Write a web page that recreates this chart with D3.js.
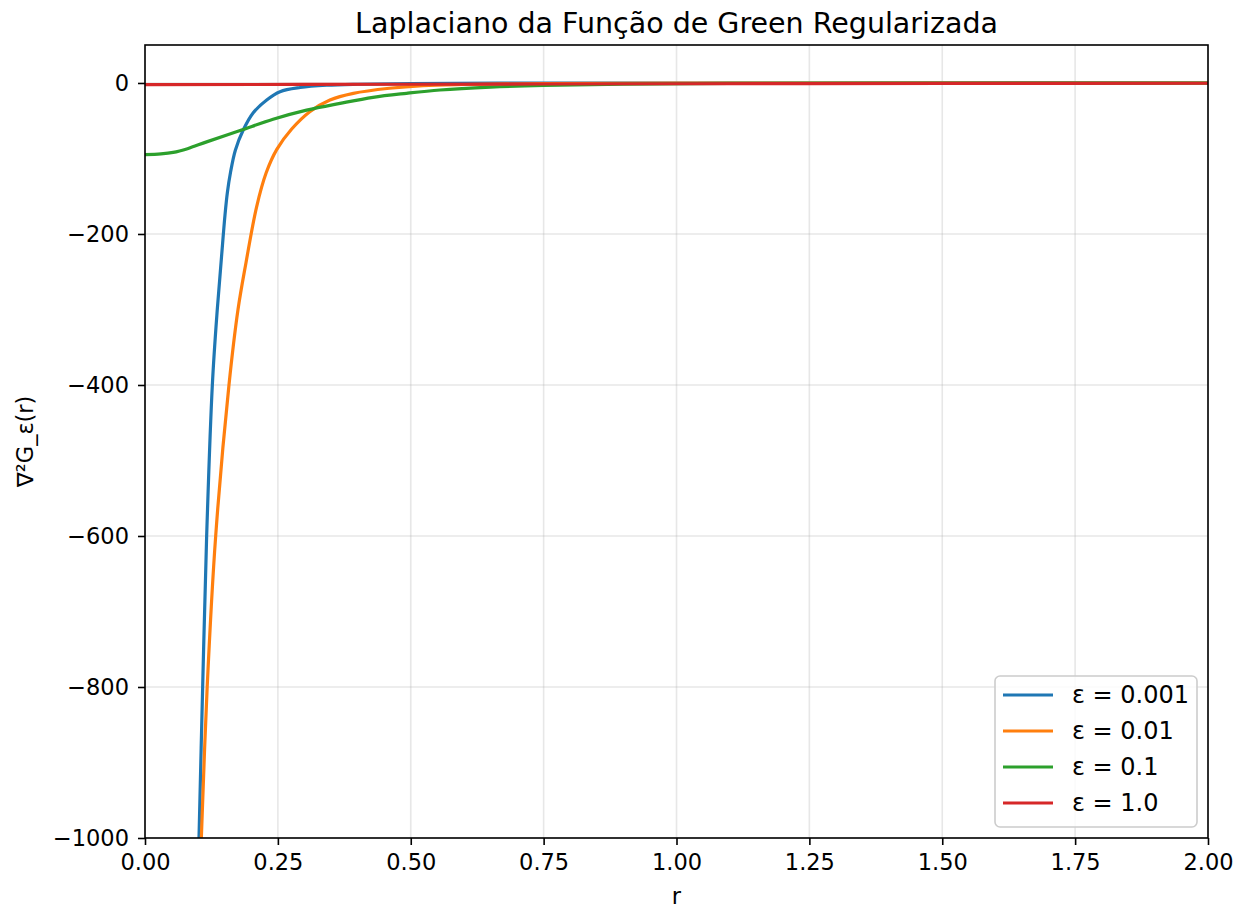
<!DOCTYPE html>
<html>
<head>
<meta charset="utf-8">
<script src="https://cdn.jsdelivr.net/npm/d3@7"></script>
<style>
  body { margin: 0; background: white; }
  text { font-family: "DejaVu Sans", sans-serif; fill: black; }
</style>
</head>
<body>
<div id="chart"></div>
<script>
// values
const seriesLabels = ["ε = 0.001", "ε = 0.01", "ε = 0.1", "ε = 1.0"];
const seriesColors = ["#1f77b4", "#ff7f0e", "#2ca02c", "#d62728"];

const rBlue = [0.1016, 0.1085, 0.116, 0.1267, 0.136, 0.144, 0.1505, 0.155, 0.161, 0.17, 0.185, 0.203, 0.229, 0.254, 0.292, 0.342, 0.4, 0.5, 0.75, 1.0, 1.5, 2.0];
const vBlue = [-1000, -800, -600, -400, -300, -230, -175, -145, -118, -89, -62, -40, -22.5, -11.5, -6, -3, -1.7, -0.8, -0.2, -0.1, 0, 0];

const rOrange = [0.106, 0.117, 0.133, 0.158, 0.175, 0.19, 0.21, 0.228, 0.248, 0.276, 0.31, 0.348, 0.392, 0.46, 0.523, 0.6, 0.75, 1.0, 1.5, 2.0];
const vOrange = [-1000, -800, -600, -400, -300, -238, -164, -119, -88, -61, -38, -22.5, -13.7, -7, -3.5, -2, -0.8, -0.3, -0.1, 0];

const rGreen = [0, 0.03, 0.053, 0.08, 0.116, 0.179, 0.241, 0.304, 0.367, 0.429, 0.492, 0.555, 0.65, 0.75, 0.9, 1.1, 1.4, 2.0];
const vGreen = [-95, -94, -92, -87, -78, -63, -48, -36, -27, -19, -13.7, -9.3, -5.5, -3.2, -1.5, -0.6, -0.2, -0.05];

const rRed = [0, 0.5, 1.0, 1.5, 2.0];
const vRed = [-2.2, -1.7, -1.0, -0.6, -0.35];

const xTicks = [0, 0.25, 0.5, 0.75, 1.0, 1.25, 1.5, 1.75, 2.0];
const yTicks = [0, -200, -400, -600, -800, -1000];

const series = [
  { r: rBlue, v: vBlue },
  { r: rOrange, v: vOrange },
  { r: rGreen, v: vGreen },
  { r: rRed, v: vRed }
].map((s, i) => ({
  label: seriesLabels[i],
  color: seriesColors[i],
  points: s.r.map((r, j) => ({ r: r, v: s.v[j] }))
}));

const margin = { top: 45, right: 38, bottom: 71, left: 145 },
      width = 1246 - margin.left - margin.right,
      height = 909 - margin.top - margin.bottom;

const root = d3.select("#chart")
    .append("svg")
    .attr("width", 1246)
    .attr("height", 909);

const svg = root.append("g")
    .attr("transform", `translate(${margin.left},${margin.top})`);

const x = d3.scaleLinear().domain([0, 2]).range([0, width]);
const y = d3.scaleLinear().domain([-1000, 50.3]).range([height, 0]);

// grid
svg.append("g").selectAll("line")
    .data(xTicks)
    .enter().append("line")
    .attr("x1", d => x(d)).attr("x2", d => x(d))
    .attr("y1", 0).attr("y2", height)
    .attr("stroke", "#b0b0b0").attr("stroke-opacity", 0.3).attr("stroke-width", 1.6);

svg.append("g").selectAll("line")
    .data(yTicks)
    .enter().append("line")
    .attr("x1", 0).attr("x2", width)
    .attr("y1", d => y(d)).attr("y2", d => y(d))
    .attr("stroke", "#b0b0b0").attr("stroke-opacity", 0.3).attr("stroke-width", 1.6);

// clip for curves
svg.append("clipPath").attr("id", "clip")
    .append("rect").attr("width", width).attr("height", height);

const line = d3.line()
    .x(d => x(d.r))
    .y(d => y(d.v))
    .curve(d3.curveCatmullRom.alpha(0.5));

svg.append("g").attr("clip-path", "url(#clip)")
    .selectAll("path")
    .data(series)
    .enter().append("path")
    .attr("d", d => line(d.points))
    .attr("fill", "none")
    .attr("stroke", d => d.color)
    .attr("stroke-width", 3.2)
    .attr("stroke-linejoin", "round");

// axes
const fmtX = d3.format(".2f");
const xAxis = svg.append("g")
    .attr("transform", `translate(0,${height})`)
    .call(d3.axisBottom(x).tickValues(xTicks).tickFormat(fmtX).tickSizeOuter(0).tickSize(7).tickPadding(9));

const yAxis = svg.append("g")
    .call(d3.axisLeft(y).tickValues(yTicks).tickFormat(d3.format("d")).tickSizeOuter(0).tickSize(7).tickPadding(9));

[xAxis, yAxis].forEach(a => {
  a.select(".domain").remove();
  a.selectAll(".tick line").attr("stroke", "black").attr("stroke-width", 1.6);
  a.selectAll(".tick text").style("font-size", "22.5px").style("font-family", "DejaVu Sans");
});
yAxis.selectAll(".tick text").text(d => d < 0 ? "\u2212" + Math.abs(d) : d);

// frame
svg.append("rect")
    .attr("width", width).attr("height", height)
    .attr("fill", "none").attr("stroke", "black").attr("stroke-width", 1.6);

// labels
root.append("text")
    .attr("x", margin.left + width / 2)
    .attr("y", 33)
    .attr("text-anchor", "middle")
    .style("font-size", "28.5px")
    .text("Laplaciano da Função de Green Regularizada");

root.append("text")
    .attr("x", margin.left + width / 2)
    .attr("y", 904)
    .attr("text-anchor", "middle")
    .style("font-size", "22.5px")
    .text("r");

root.append("text")
    .attr("transform", `translate(33,${margin.top + height / 2}) rotate(-90)`)
    .attr("text-anchor", "middle")
    .style("font-size", "22.5px")
    .text("∇²G_ε(r)");

// legend
const legend = svg.append("g")
    .attr("transform", `translate(${width - 213},${height - 162})`);

legend.append("rect")
    .attr("width", 202).attr("height", 151)
    .attr("rx", 5)
    .attr("fill", "white").attr("fill-opacity", 0.8)
    .attr("stroke", "#cccccc").attr("stroke-width", 1.6);

const item = legend.selectAll("g.item")
    .data(series)
    .enter().append("g")
    .attr("class", "item")
    .attr("transform", (d, i) => `translate(0,${19 + i * 36})`);

item.append("line")
    .attr("x1", 8).attr("x2", 58)
    .attr("stroke", d => d.color).attr("stroke-width", 3.2);

item.append("text")
    .attr("x", 77).attr("dy", "0.35em")
    .style("font-size", "24px")
    .text(d => d.label);
</script>
</body>
</html>
